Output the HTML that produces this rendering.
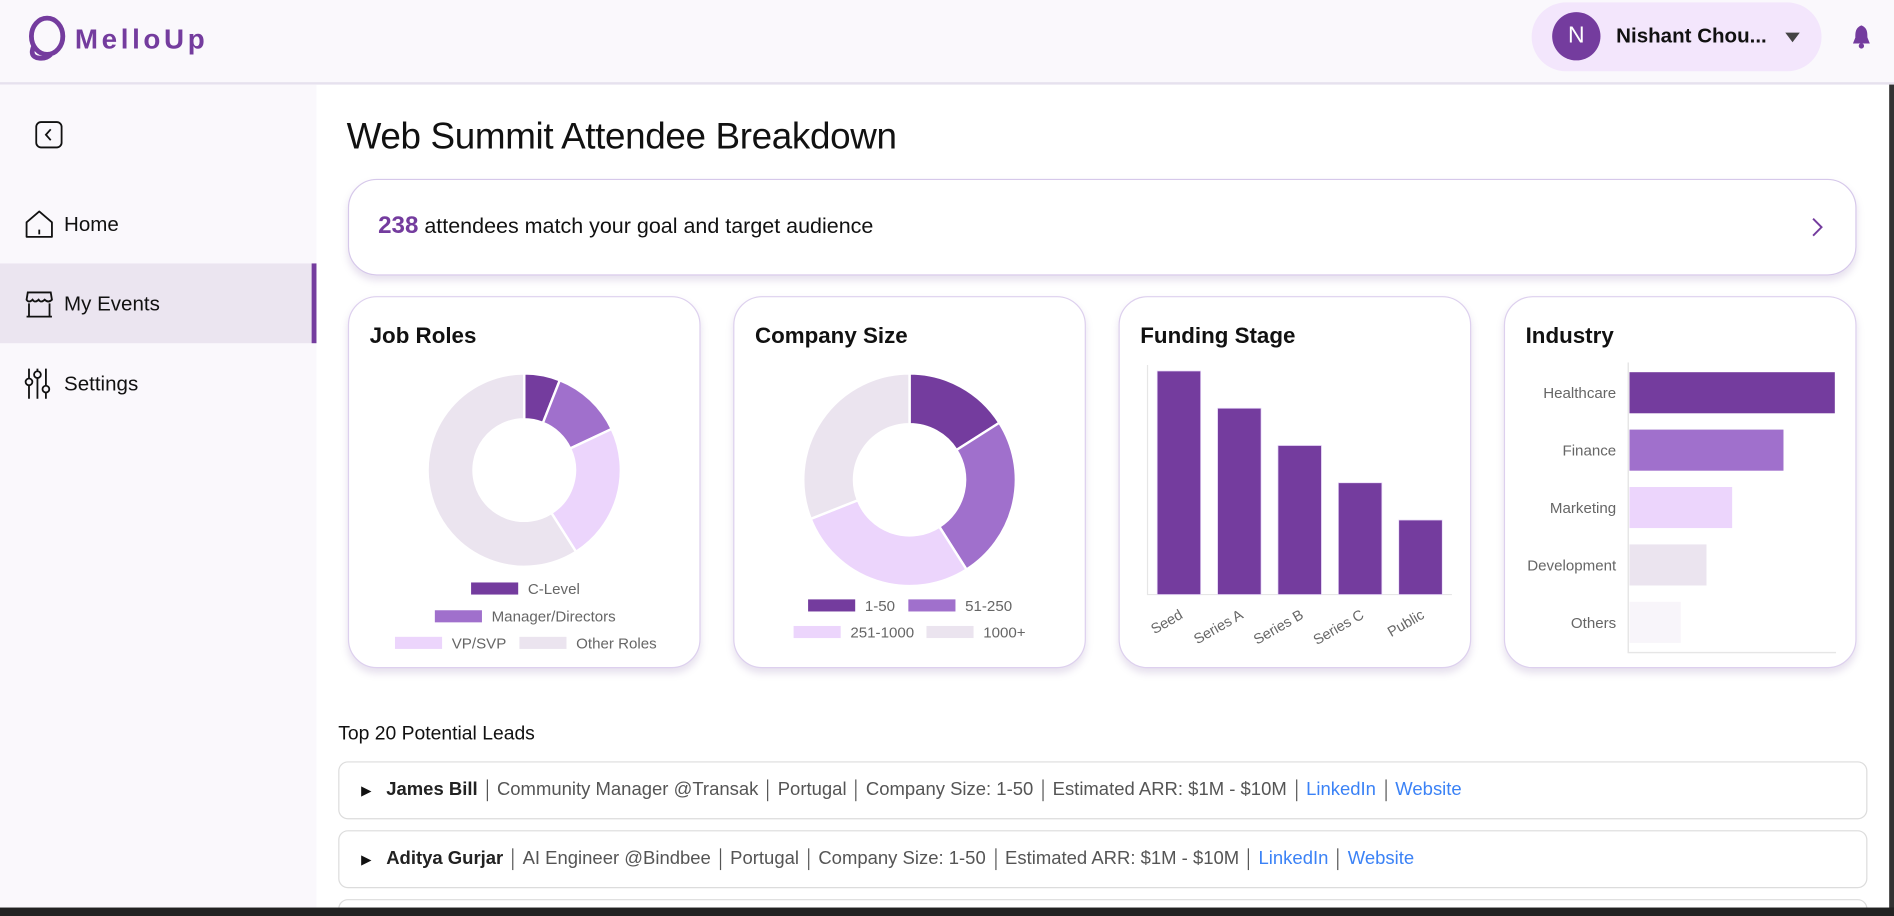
<!DOCTYPE html>
<html><head><meta charset="utf-8">
<style>
html,body{margin:0;padding:0;width:1894px;height:916px;overflow:hidden;background:#fff;font-family:"Liberation Sans",sans-serif;}
#wrap{position:absolute;left:0;top:0;width:1568px;height:758px;overflow:hidden;transform-origin:0 0;transform:scale(1.20791,1.20844);background:#fff;}
.abs{position:absolute;}
.card{position:absolute;top:245px;width:292px;height:308px;border:1px solid #ddd0ee;border-radius:24px;background:#fff;box-shadow:0 4px 6px rgba(120,90,160,0.18);box-sizing:border-box;}
.ctitle{position:absolute;left:17px;top:21px;font-size:18.5px;font-weight:bold;color:#111;}
.lead{position:absolute;left:280px;width:1266px;height:48px;border:1px solid #dcdcdc;border-radius:8px;box-sizing:border-box;font-size:15.3px;color:#555;line-height:46px;white-space:nowrap;}
.lead b{color:#222;}
.sep{display:inline-block;width:1px;height:18px;background:#555;vertical-align:middle;margin:0 7.5px;}
.lnk{color:#3b82f6;}
.nav{position:absolute;left:0;width:262px;height:66px;font-size:17px;color:#111;}
</style></head><body>
<div id="wrap">
  <div class="abs" style="left:0;top:0;width:1568px;height:68px;background:#faf8fc;border-bottom:2px solid #e6e1ee;"></div>
  <svg class="abs" style="left:20px;top:12px" width="36" height="40" viewBox="0 0 36 40"><ellipse cx="19" cy="18" rx="13" ry="15" fill="none" stroke="#743c9e" stroke-width="4"/><path d="M8 26 Q4 35 12 36 Q18 37 22 33" fill="none" stroke="#743c9e" stroke-width="4"/></svg>
  <div class="abs" style="left:62px;top:19px;font-size:23px;font-weight:bold;color:#743c9e;letter-spacing:3px;">MelloUp</div>
  <div class="abs" style="left:1268px;top:2px;width:240px;height:57px;border-radius:29px;background:#f3e6fc;"></div>
  <div class="abs" style="left:1285px;top:10px;width:40px;height:40px;border-radius:50%;background:#743c9e;color:#fff;font-size:19px;text-align:center;line-height:40px;">N</div>
  <div class="abs" style="left:1338px;top:20px;font-size:17px;font-weight:bold;color:#111;">Nishant Chou...</div>
  <div class="abs" style="left:1478px;top:27px;width:0;height:0;border-left:6px solid transparent;border-right:6px solid transparent;border-top:8px solid #444;"></div>
  <svg class="abs" style="left:1532px;top:20px" width="18" height="22" viewBox="0 0 18 22"><path d="M9 1 C4 3 4 7 4 11 L2 16 L16 16 L14 11 C14 7 14 3 9 1Z" fill="#743c9e"/><circle cx="9" cy="18" r="2.2" fill="#743c9e"/></svg>
  <div class="abs" style="left:0;top:70px;width:262px;height:688px;background:#faf8fc;"></div>
  <svg class="abs" style="left:29px;top:100px" width="23" height="23" viewBox="0 0 23 23"><rect x="1" y="1" width="21" height="21" rx="4" fill="none" stroke="#111" stroke-width="1.5"/><path d="M13 7 L9 11.5 L13 16" fill="none" stroke="#111" stroke-width="1.5"/></svg>
  <div class="nav" style="top:152px;">
    <svg class="abs" style="left:20px;top:21px" width="25" height="25" viewBox="0 0 25 25"><path d="M2 11 L12.5 2 L23 11 L23 23 L2 23Z" fill="none" stroke="#111" stroke-width="1.5" stroke-linejoin="round"/><path d="M12.5 17 L12.5 21" stroke="#111" stroke-width="1.5"/></svg>
    <span class="abs" style="left:53px;top:24px;">Home</span></div>
  <div class="nav" style="top:218px;background:#ebe5f0;border-right:4px solid #743c9e;box-sizing:border-box;">
    <svg class="abs" style="left:20px;top:21px" width="25" height="25" viewBox="0 0 25 25"><path d="M3 3 L22 3 L23 9 Q20 12 17 9 Q14 12 12 9 Q9 12 7 9 Q4 12 2 9Z" fill="none" stroke="#111" stroke-width="1.5"/><path d="M4 12 L4 23 M21 12 L21 23 M2 23 L23 23" stroke="#111" stroke-width="1.5"/></svg>
    <span class="abs" style="left:53px;top:24px;">My Events</span></div>
  <div class="nav" style="top:284px;">
    <svg class="abs" style="left:20px;top:20px" width="22" height="27" viewBox="0 0 22 27"><path d="M4 1 L4 9 M4 15 L4 26 M11 1 L11 3 M11 9 L11 26 M18 1 L18 15 M18 21 L18 26" stroke="#111" stroke-width="1.5"/><circle cx="4" cy="12" r="2.8" fill="none" stroke="#111" stroke-width="1.5"/><circle cx="11" cy="6" r="2.8" fill="none" stroke="#111" stroke-width="1.5"/><circle cx="18" cy="18" r="2.8" fill="none" stroke="#111" stroke-width="1.5"/></svg>
    <span class="abs" style="left:53px;top:24px;">Settings</span></div>
  <div class="abs" style="left:287px;top:96px;font-size:30.5px;color:#111;letter-spacing:-0.3px;">Web Summit Attendee Breakdown</div>
  <div class="abs" style="left:288px;top:148px;width:1249px;height:80px;border:1px solid #d6c8ea;border-radius:24px;box-sizing:border-box;box-shadow:0 4px 6px rgba(120,90,160,0.18);">
    <div class="abs" style="left:24px;top:27px;font-size:17.8px;color:#111;white-space:nowrap;"><span style="color:#743c9e;font-weight:bold;font-size:20px;">238</span> attendees match your goal and target audience</div>
    <svg class="abs" style="left:1210px;top:30px" width="12" height="18" viewBox="0 0 12 18"><path d="M2 2 L9 9 L2 16" fill="none" stroke="#743c9e" stroke-width="1.6"/></svg>
  </div>
  <div class="card" style="left:288px;"><div class="ctitle">Job Roles</div></div>
  <div class="card" style="left:607px;"><div class="ctitle">Company Size</div></div>
  <div class="card" style="left:926px;"><div class="ctitle">Funding Stage</div></div>
  <div class="card" style="left:1245px;"><div class="ctitle">Industry</div></div>
  <svg id="charts" class="abs" style="left:0;top:0" width="1568" height="758"></svg>
  <div class="abs" style="left:280px;top:599px;font-size:16px;color:#111;">Top 20 Potential Leads</div>
  <div class="lead" style="top:630px;"><span style="margin-left:18px;color:#111;font-size:11px;">&#9654;</span> <b style="margin-left:8px;">James Bill</b><span class="sep"></span>Community Manager @Transak<span class="sep"></span>Portugal<span class="sep"></span>Company Size: 1-50<span class="sep"></span>Estimated ARR: $1M - $10M<span class="sep"></span><span class="lnk">LinkedIn</span><span class="sep"></span><span class="lnk">Website</span></div>
  <div class="lead" style="top:687px;"><span style="margin-left:18px;color:#111;font-size:11px;">&#9654;</span> <b style="margin-left:8px;">Aditya Gurjar</b><span class="sep"></span>AI Engineer @Bindbee<span class="sep"></span>Portugal<span class="sep"></span>Company Size: 1-50<span class="sep"></span>Estimated ARR: $1M - $10M<span class="sep"></span><span class="lnk">LinkedIn</span><span class="sep"></span><span class="lnk">Website</span></div>
  <div class="lead" style="top:744px;height:20px;"></div>
  <div class="abs" style="left:1564px;top:70px;width:4px;height:688px;background:#333;"></div>
  <div class="abs" style="left:0;top:751px;width:1568px;height:7px;background:#222;"></div>
</div>
<script>
const jobLabels=["C-Level","Manager/Directors","VP/SVP","Other Roles"];
const jobValues=[6,12,23,59];
const sizeLabels=["1-50","51-250","251-1000","1000+"];
const sizeValues=[16,25,28,31];
const fundLabels=["Seed","Series A","Series B","Series C","Public"];
const fundValues=[60,50,40,30,20];
const indLabels=["Healthcare","Finance","Marketing","Development","Others"];
const indValues=[80,60,40,30,20];
const colors=["#743c9e","#a070cc","#ecd5fc","#ebe4ef","#f8f5fa"];
const NS="http://www.w3.org/2000/svg";
const svg=document.getElementById('charts');
function mk(tag,attrs){const e=document.createElementNS(NS,tag);for(const k in attrs)e.setAttribute(k,attrs[k]);svg.appendChild(e);return e;}
function txt(x,y,s,anchor,size,fill,rot){const t=mk('text',{x:x,y:y,'text-anchor':anchor,'font-size':size,fill:fill,'font-family':'Liberation Sans, sans-serif'});if(rot)t.setAttribute('transform','rotate('+rot+' '+x+' '+y+')');t.textContent=s;return t;}
function donut(cx,cy,ro,ri,vals,name){
  const tot=vals.reduce((a,b)=>a+b,0);let a0=0;
  vals.forEach((v,i)=>{const a1=a0+v/tot*2*Math.PI;
    const p=(r,a)=>[cx+r*Math.sin(a),cy-r*Math.cos(a)];
    const [x0,y0]=p(ro,a0),[x1,y1]=p(ro,a1),[x2,y2]=p(ri,a1),[x3,y3]=p(ri,a0);
    const lg=(a1-a0)>Math.PI?1:0;
    const el=mk('path',{d:`M${x0},${y0}A${ro},${ro} 0 ${lg} 1 ${x1},${y1}L${x2},${y2}A${ri},${ri} 0 ${lg} 0 ${x3},${y3}Z`,fill:colors[i],stroke:'#fff','stroke-width':2});
    
    
    a0=a1;});
}
function legend(items){items.forEach(it=>{
  const r=mk('rect',{x:it[0],y:it[1]-5,width:39,height:10,fill:colors[it[3]]});
  
  
  const t=txt(it[0]+47,it[1]+4.5,it[2],'start',12.5,'#666');
  
  
});}
donut(434,389,80,42,jobValues,'job-roles');
legend([[390,487,jobLabels[0],0],[360,510,jobLabels[1],1],[327,532,jobLabels[2],2],[430,532,jobLabels[3],3]]);
donut(753,397,88,46,sizeValues,'company-size');
legend([[669,501,sizeLabels[0],0],[752,501,sizeLabels[1],1],[657,523,sizeLabels[2],2],[767,523,sizeLabels[3],3]]);
const fx0=950,fy0=492,fyMax=60,fH=185,fStep=50,fW=36;
function fy(v){return fy0-v/fyMax*fH;}
const fAxis=mk('path',{d:`M${fx0},302 L${fx0},${fy0} L1202,${fy0}`,fill:'none',stroke:'#e6e6e6','stroke-width':1});


fundValues.forEach((v,i)=>{const x=958+i*fStep;
  const b=mk('rect',{x:x,y:fy(v),width:fW,height:fy0-fy(v),fill:colors[0],stroke:'#e8d8f8','stroke-width':0.6});
  
  
  const t=txt(x+22,fy0+19,fundLabels[i],'end',12,'#666',-30);
  
  
});
const ix0=1349,iMax=80,iW=170,iy0=308,iStep=47.5,iH=34;
function ix(v){return v/iMax*iW;}
const iAxis=mk('path',{d:`M1348,300 L1348,540 L1520,540`,fill:'none',stroke:'#e6e6e6','stroke-width':1.2});


indValues.forEach((v,i)=>{const y=iy0+i*iStep;
  const b=mk('rect',{x:ix0,y:y,width:ix(v),height:iH,fill:colors[i]});
  
  
  const t=txt(1338,y+iH/2+4.5,indLabels[i],'end',12.5,'#666');
  
  
});
</script>
</body></html>
